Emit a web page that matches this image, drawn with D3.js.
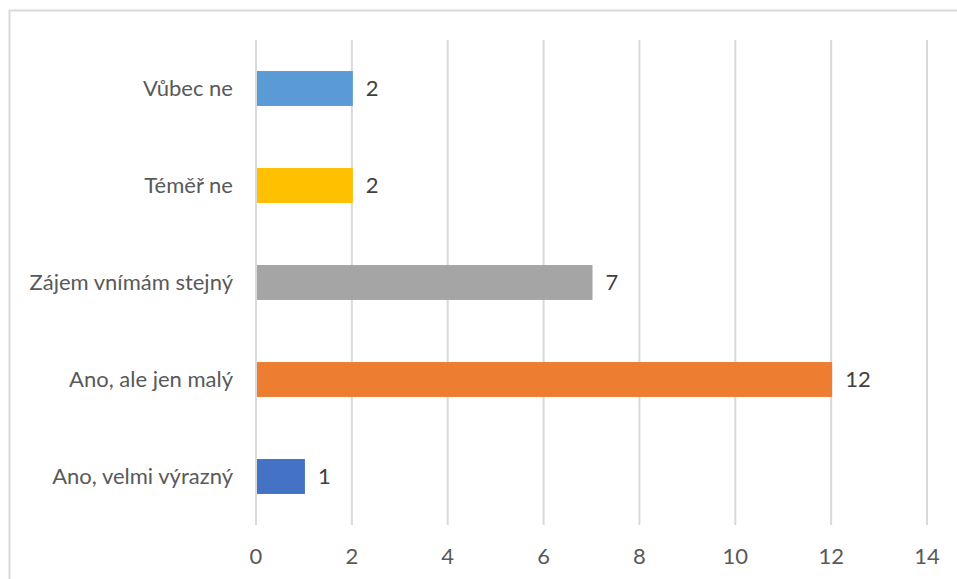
<!DOCTYPE html>
<html><head><meta charset="utf-8">
<script src="https://cdn.jsdelivr.net/npm/d3@7"></script>
<style>body{margin:0;background:#fff}svg{display:block}</style>
</head><body>
<script>
const categories = ["Vůbec ne", "Téměř ne", "Zájem vnímám stejný", "Ano, ale jen malý", "Ano, velmi výrazný"];
const values = [2, 2, 7, 12, 1];
const colors = ["#5B9BD5", "#FFC000", "#A5A5A5", "#ED7D31", "#4472C4"];
const xTicks = [0, 2, 4, 6, 8, 10, 12, 14];

const W = 957, H = 579;
const svg = d3.select("body").append("svg").attr("width", W).attr("height", H);
const font = "Lato, 'Open Sans', sans-serif";
const fs = 22;

svg.append("rect").attr("x", 9.5).attr("y", 10.5).attr("width", 1200).attr("height", 1200)
  .attr("fill", "#fff").attr("stroke", "#D9D9D9").attr("stroke-width", 2);

const x = d3.scaleLinear().domain([0, 14]).range([256, 927]);
const y = d3.scaleBand().domain(categories).range([40, 525]).paddingInner(0.64).paddingOuter(0.32);

svg.append("g").selectAll("line").data(xTicks).join("line")
  .attr("x1", d => x(d)).attr("x2", d => x(d)).attr("y1", 40).attr("y2", 525)
  .attr("stroke", "#D9D9D9").attr("stroke-width", 2);

svg.append("g").selectAll("rect").data(values).join("rect")
  .attr("x", x(0) + 1).attr("y", (d, i) => y(categories[i]))
  .attr("width", d => x(d) - x(0)).attr("height", y.bandwidth())
  .attr("fill", (d, i) => colors[i]);

svg.append("g").selectAll("text").data(values).join("text")
  .attr("x", d => x(d) + 14).attr("y", (d, i) => y(categories[i]) + y.bandwidth() / 2)
  .attr("dy", "0.35em").attr("font-family", font).attr("font-size", fs).attr("fill", "#404040")
  .text(d => d);

svg.append("g").selectAll("text").data(categories).join("text")
  .attr("x", 233).attr("y", d => y(d) + y.bandwidth() / 2)
  .attr("dy", "0.35em").attr("text-anchor", "end")
  .attr("font-family", font).attr("font-size", fs).attr("fill", "#595959")
  .text(d => d);

svg.append("g").selectAll("text").data(xTicks).join("text")
  .attr("x", d => x(d)).attr("y", 556).attr("dy", "0.35em").attr("text-anchor", "middle")
  .attr("font-family", font).attr("font-size", fs).attr("fill", "#595959")
  .text(d => d);
</script>
</body></html>
